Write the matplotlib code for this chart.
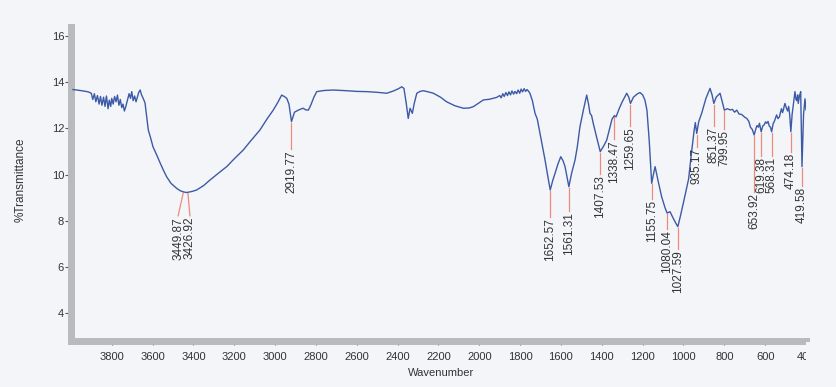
import matplotlib
matplotlib.use("Agg")
import matplotlib.pyplot as plt
from matplotlib import font_manager
from matplotlib.patches import Rectangle
from matplotlib.ticker import MultipleLocator

# FTIR spectrum, %T against wavenumber (cm-1)
wavenumber = [
    3990, 3971, 3940, 3915, 3900, 3893, 3885, 3878, 3870, 3862, 3855, 3848,
    3840, 3833, 3826, 3818, 3812, 3805, 3800, 3793, 3786, 3779, 3772, 3765,
    3758, 3751, 3745, 3738, 3731, 3722, 3715, 3708, 3702, 3695, 3688, 3681,
    3674, 3668, 3661, 3654, 3646, 3637, 3630, 3621, 3610, 3598, 3580, 3563,
    3545, 3531, 3510, 3482, 3465, 3449.87, 3435, 3426.92, 3405, 3384, 3350,
    3319, 3280, 3237, 3200, 3156, 3120, 3074, 3040, 3009, 2985, 2968, 2955,
    2943, 2932, 2919.77, 2905, 2886, 2870, 2862, 2850, 2837, 2825, 2810, 2796,
    2760, 2715, 2650, 2600, 2551, 2500, 2453, 2420, 2395, 2380, 2369, 2358,
    2348, 2339, 2328, 2318, 2306, 2290, 2274, 2250, 2225, 2190, 2160, 2120,
    2078, 2050, 2029, 2005, 1980, 1950, 1915, 1900, 1893, 1885, 1878, 1870,
    1862, 1855, 1847, 1840, 1832, 1825, 1817, 1810, 1802, 1795, 1788, 1780,
    1773, 1766, 1760, 1752, 1740, 1727, 1716, 1706, 1690, 1678, 1665, 1652.57,
    1640, 1629, 1615, 1601, 1590, 1580, 1561.31, 1548, 1531, 1520, 1507, 1490,
    1474, 1465, 1458, 1450, 1442, 1425, 1407.53, 1390, 1376, 1360, 1350,
    1338.47, 1330, 1315, 1300, 1278, 1268, 1259.65, 1245, 1225, 1213, 1200,
    1189, 1179, 1168, 1155.75, 1145, 1139, 1125, 1107, 1090, 1080.04, 1066,
    1050, 1035, 1027.59, 1015, 1001, 975, 960, 948, 942, 935.17, 925, 911, 890,
    870, 860, 851.37, 840, 821, 810, 799.95, 785, 772, 760, 750, 739, 728, 715,
    700, 690, 680, 672, 663, 653.92, 645, 640, 633, 628, 619.38, 612, 605, 598,
    592, 586, 580, 574, 568.31, 561, 555, 549, 544, 537, 530, 525, 520, 515,
    511, 507, 503, 497, 490, 485, 480, 474.18, 468, 461, 454, 449, 445, 441,
    438, 432, 426, 419.58, 412, 405, 400,
]
transmittance = [
    13.68, 13.66, 13.62, 13.58, 13.52, 13.25, 13.50, 13.15, 13.42, 13.05, 13.38, 13.00,
    13.35, 12.95, 13.40, 12.85, 13.22, 12.95, 13.30, 13.05, 13.38, 13.15, 13.44, 13.00,
    13.25, 12.90, 13.05, 12.75, 12.95, 13.25, 13.50, 13.30, 13.59, 13.20, 13.40, 13.15,
    13.37, 13.55, 13.66, 13.45, 13.30, 13.10, 12.60, 11.93, 11.60, 11.20, 10.85, 10.50,
    10.15, 9.90, 9.62, 9.40, 9.30, 9.25, 9.22, 9.23, 9.27, 9.33, 9.52,
    9.76, 10.04, 10.34, 10.68, 11.06, 11.45, 11.93, 12.40, 12.79, 13.15, 13.44, 13.38,
    13.30, 13.05, 12.29, 12.70, 12.79, 12.85, 12.87, 12.80, 12.79, 13.01, 13.35, 13.59,
    13.64, 13.66, 13.63, 13.60, 13.59, 13.56, 13.52, 13.62, 13.72, 13.80, 13.73, 13.10,
    12.43, 12.87, 12.65, 13.10, 13.52, 13.60, 13.63, 13.58, 13.52, 13.35, 13.15, 12.98,
    12.87, 12.88, 12.94, 13.08, 13.23, 13.26, 13.34, 13.42, 13.32, 13.50, 13.38, 13.55,
    13.42, 13.58, 13.45, 13.62, 13.48, 13.60, 13.50, 13.66, 13.52, 13.70, 13.58, 13.72,
    13.60, 13.68, 13.62, 13.52, 13.20, 12.65, 12.40, 11.93, 11.20, 10.63, 9.95, 9.33,
    9.75, 10.05, 10.45, 10.77, 10.60, 10.34, 9.47, 10.05, 10.63, 11.20, 12.07, 12.80,
    13.44, 13.05, 12.65, 12.55, 12.22, 11.60, 10.99, 11.25, 11.49, 12.05, 12.40,
    12.55, 12.50, 12.85, 13.15, 13.52, 13.35, 13.08, 13.35, 13.50, 13.55, 13.45,
    13.23, 12.79, 11.50, 9.62, 10.10, 10.34, 9.75, 9.04, 8.55, 8.33, 8.39,
    8.10, 7.85, 7.74, 8.20, 8.75, 9.80, 11.00, 11.90, 12.25, 11.78, 12.30, 12.65, 13.30,
    13.73, 13.45, 13.08, 13.35, 13.52, 13.15, 12.79, 12.85, 12.80, 12.82, 12.70, 12.79, 12.62, 12.60,
    12.48, 12.43, 12.30, 12.05, 11.95, 11.71, 12.00, 12.12, 12.05, 12.22, 11.85, 12.10, 12.15, 12.28,
    12.22, 12.30, 12.10, 12.05, 11.85, 12.20, 12.30, 12.45, 12.58, 12.42, 12.50, 12.70, 12.85, 12.68,
    12.79, 12.95, 13.08, 12.90, 12.75, 12.95, 12.60, 11.85, 12.60, 13.10, 13.59, 13.25, 13.20, 13.45,
    13.08, 13.40, 13.59, 10.34, 12.60, 13.28, 12.80,
]

# picked peaks
peaks = [3449.87, 3426.92, 2919.77, 1652.57, 1561.31, 1407.53, 1338.47, 1259.65,
         1155.75, 1080.04, 1027.59, 935.17, 851.37, 799.95, 653.92, 619.38,
         568.31, 474.18, 419.58]
# where each peak label starts (in %T) and its sideways shift (cm-1)
label_top = [8.16, 8.16, 11.06, 8.12, 8.35, 9.98, 11.5, 12.06,
             8.9, 7.6, 6.73, 11.15, 12.06, 11.93, 9.2, 10.76,
             10.76, 10.93, 9.46]
label_shift = [25, -10, 0, 0, 0, 0, 0, 0,
               0, 0, 0, 0, 0, 0, 0, 0,
               0, 0, 0]

bg = "#f3f5f9"
names = {f.name for f in font_manager.fontManager.ttflist}
narrow = "Liberation Sans Narrow" if "Liberation Sans Narrow" in names else "Liberation Sans"
plt.rcParams["font.family"] = [narrow, "DejaVu Sans"]

fig = plt.figure(figsize=(8.37, 3.87), dpi=100, facecolor=bg)
ax = fig.add_axes([70.9 / 837, 1 - 341 / 387, (806 - 70.9) / 837, (341 - 27) / 387])
ax.set_facecolor(bg)

ax.plot(wavenumber, transmittance, color="#3d5aa6", lw=1.0, zorder=3)

t_at = dict(zip(wavenumber, transmittance))
for wn, top, dx in zip(peaks, label_top, label_shift):
    t = t_at[wn]
    ax.plot([wn, wn + dx], [t - 0.05, top + 0.05], color="#ef8a7a", lw=0.9, zorder=2)
    ax.text(wn + dx, top, f"{wn:.2f}", rotation=90, ha="center", va="top",
            fontsize=8.5, color="#333333", family=["Liberation Sans", "DejaVu Sans"])

ax.set_xlim(4000, 400)
ax.set_ylim(2.787, 16.39)

ax.set_xticks(list(range(3800, 399, -200)))
ax.xaxis.set_minor_locator(MultipleLocator(50))
ax.set_yticks(list(range(4, 17, 2)))

for side in ("top", "right"):
    ax.spines[side].set_visible(False)
for side in ("left", "bottom"):
    ax.spines[side].set_color("#b9babe")
    ax.spines[side].set_linewidth(5.0)
    ax.spines[side].set_capstyle("projecting")

ax.tick_params(axis="x", which="major", direction="out", length=2.6, width=0.8,
               color="#555555", labelsize=8, labelcolor="#333333", pad=5.2)
ax.tick_params(axis="x", which="minor", direction="out", length=1.8, width=0.6,
               color="#666666")
ax.tick_params(axis="y", which="major", direction="out", length=4.4, width=0.8,
               color="#555555", labelsize=8, labelcolor="#333333", pad=0.5)

fig.text(21 / 837, 1 - 180 / 387, "%Transmittance", rotation=90, ha="center",
         va="center", fontsize=8.5, color="#333333", family=["Liberation Sans", "DejaVu Sans"])
fig.text(441 / 837, 1 - 373 / 387, "Wavenumber", ha="center", va="center",
         fontsize=8, color="#333333", family=["Liberation Sans", "DejaVu Sans"])

# the sheet stops just past 400 cm-1
fig.add_artist(Rectangle((806 / 837, 0), 31 / 837, 0.115, transform=fig.transFigure,
                         facecolor=bg, edgecolor="none", zorder=5))

fig.savefig("out.png", dpi=100, facecolor=bg)
